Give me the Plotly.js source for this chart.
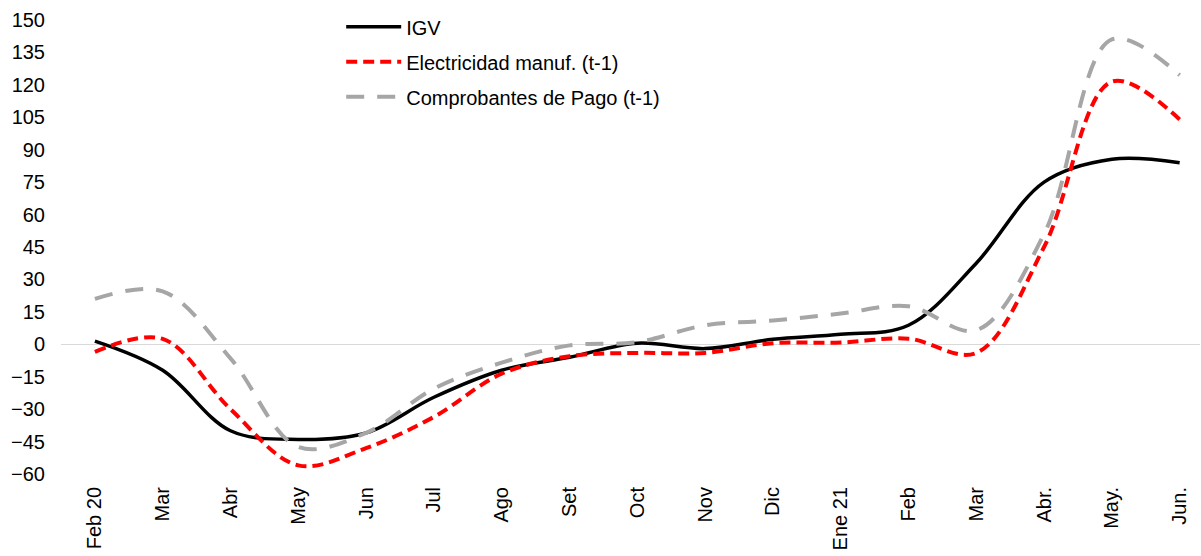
<!DOCTYPE html>
<html>
<head>
<meta charset="utf-8">
<script src="https://cdn.plot.ly/plotly-3.0.1.min.js"></script>
<style>
  body { margin: 0; background: #fff; }
  #myPlot { width: 1201px; height: 556px; }
</style>
</head>
<body>
<div id="myPlot"></div>
<script>
    // Meses (Feb 20 - Jun 21)
    const months = ["Feb 20", "Mar", "Abr", "May", "Jun", "Jul", "Ago", "Set", "Oct",
                    "Nov", "Dic", "Ene 21", "Feb", "Mar", "Abr.", "May.", "Jun."];

    const igv = [1.5, -12, -40, -44, -41, -24.5, -12, -6, 0.5, -2, 2.3, 4.6, 8.8, 37.5, 75, 85.6, 84];
    const electricidad = [-3.5, 2.5, -30, -56, -48, -33.6, -13.6, -5.5, -4, -4, 0.5, 0.8, 2.6, -4, 45, 121.5, 104];
    const comprobantes = [21, 24.5, -6.5, -47.5, -41, -20.5, -8.5, -0.5, 1, 8.8, 11, 14.2, 17.6, 6.5, 51, 141, 124.5];

    const yTicks = [-60, -45, -30, -15, 0, 15, 30, 45, 60, 75, 90, 105, 120, 135, 150];

    var xIdx = months.map(function (m, i) { return i; });

    const data = [{
        x: xIdx,
        y: igv,
        name: "IGV",
        legendgroup: "a",
        type: "scatter",
        mode: "lines",
        line: { color: "#000000", width: 3.5, shape: "spline", smoothing: 1 }
    }, {
        x: xIdx,
        y: electricidad,
        name: "Electricidad manuf. (t-1)",
        legendgroup: "b",
        type: "scatter",
        mode: "lines",
        line: { color: "#FF0000", width: 4, dash: "11px,6px", shape: "spline", smoothing: 1 }
    }, {
        x: xIdx,
        y: comprobantes,
        name: "Comprobantes de Pago (t-1)",
        legendgroup: "c",
        type: "scatter",
        mode: "lines",
        line: { color: "#A6A6A6", width: 4, dash: "18px,13px", shape: "spline", smoothing: 1 }
    }];

    const layout = {
        width: 1201,
        height: 556,
        margin: { l: 61, r: 1, t: 20, b: 82 },
        paper_bgcolor: "#ffffff",
        plot_bgcolor: "#ffffff",
        font: { family: "Liberation Sans, Arial, sans-serif", size: 20, color: "#000000" },
        showlegend: true,
        legend: {
            x: 0.246,
            y: 1.028,
            xanchor: "left",
            yanchor: "top",
            traceorder: "grouped",
            tracegroupgap: 6,
            itemwidth: 55,
            bgcolor: "rgba(0,0,0,0)",
            font: { size: 20 }
        },
        xaxis: {
            range: [-0.5, 16.3],
            tickmode: "array",
            tickvals: xIdx,
            ticktext: months,
            tickangle: -90,
            showgrid: false,
            zeroline: false,
            showline: false,
            ticks: "",
            ticklabelstandoff: 8,
            tickfont: { size: 20 }
        },
        yaxis: {
            range: [-60, 150],
            tickmode: "array",
            tickvals: yTicks,
            showgrid: false,
            zeroline: true,
            zerolinecolor: "#D9D9D9",
            zerolinewidth: 1,
            showline: false,
            ticks: "",
            ticklabelstandoff: 15,
            tickfont: { size: 20 }
        }
    };

    Plotly.newPlot("myPlot", data, layout, { displayModeBar: false, staticPlot: true });
</script>
</body>
</html>
